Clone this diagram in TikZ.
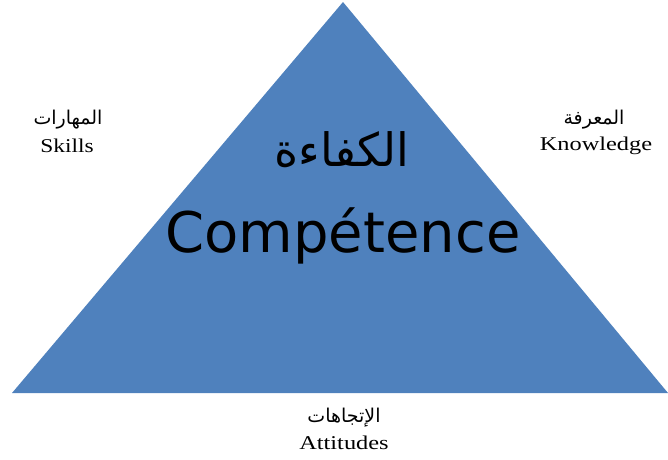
\documentclass[tikz,border=0pt]{standalone}
\usepackage{fontspec}
\setmainfont{Liberation Serif}
\newfontfamily\arabicfont[Script=Arabic]{DejaVu Sans}
\newfontfamily\compfont{DejaVu Sans}
\TeXXeTstate=1
\definecolor{triblue}{HTML}{4F81BD}
\begin{document}
\begin{tikzpicture}[x=1pt,y=-1pt,
  lbl/.style={inner sep=0pt,align=center,font=\fontsize{19.5}{19.5}\selectfont},
  arlbl/.style={inner sep=0pt,font=\arabicfont\fontsize{19}{19}\selectfont}]
\useasboundingbox (0,0) rectangle (668,459);
\coordinate (apex) at (343,2);
\coordinate (bl) at (12,393);
\coordinate (br) at (668,393);
\fill[triblue] (apex) -- (bl) -- (br) -- cycle;
\node[inner sep=0pt,font=\arabicfont\fontsize{46}{46}\selectfont] (ar) at (342,150) {\beginR الكفاءة\endR};
\node[inner sep=0pt,font=\compfont\fontsize{56}{56}\selectfont] (comp) at (343,236) {Compétence};
\node[arlbl] (skar) at (68,120) {\beginR المهارات\endR};
\node[lbl] (sk) at (67,146) {\scalebox{1.2}[1]{Skills}};
\node[arlbl] (knar) at (594,120) {\beginR المعرفة\endR};
\node[lbl] (kn) at (596,146) {\scalebox{1.25}[1]{Knowledge}};
\node[arlbl] (atar) at (344,418) {\beginR الإتجاهات\endR};
\node[lbl] (at) at (344,443) {\scalebox{1.25}[1]{Attitudes}};
\end{tikzpicture}
\end{document}
